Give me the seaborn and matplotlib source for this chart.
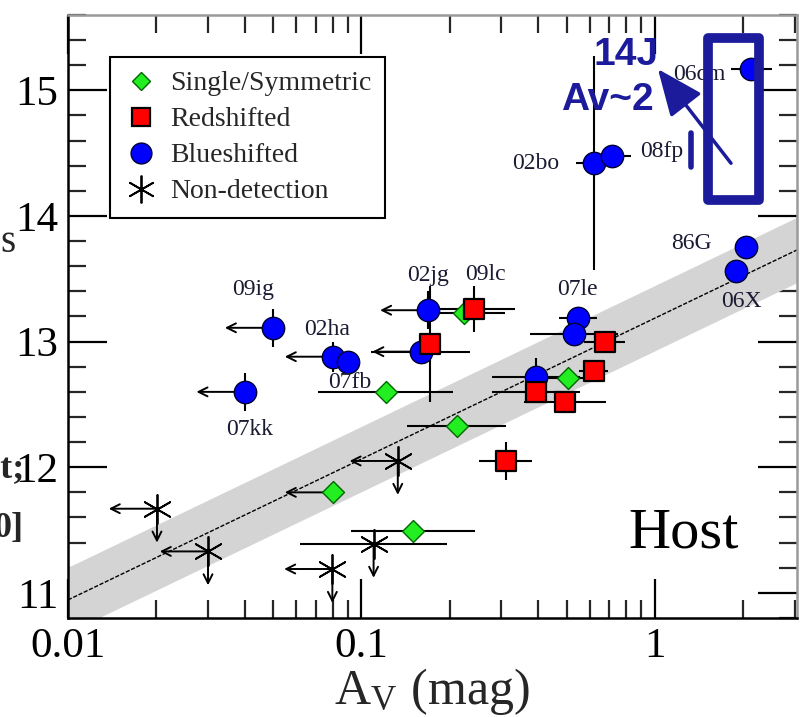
import numpy as np
import pandas as pd
import seaborn as sns
import matplotlib
matplotlib.use("Agg")
import matplotlib.pyplot as plt
from matplotlib.lines import Line2D
from matplotlib.patches import Rectangle
from matplotlib.ticker import LogLocator, MultipleLocator, FixedLocator, FixedFormatter

# ---------------- data ----------------
# Blueshifted
blue_name = ["09ig", "02ha", "07fb", "07kk", "02jg", "", "07le", "", "", "02bo", "08fp", "06cm", "86G", "06X"]
blue_av   = [0.050, 0.080, 0.090, 0.040, 0.169, 0.159, 0.546, 0.529, 0.392, 0.619, 0.713, 2.13, 2.05, 1.89]
blue_y    = [13.11, 12.88, 12.84, 12.60, 13.25, 12.92, 13.19, 13.06, 12.72, 14.42, 14.48, 15.17, 13.75, 13.56]
blue_xerr = [0.0, 0.0, 0.0, 0.0, 0.0, 0.17, 0.065, 0.15, 0.15, 0.06, 0.065, 0.07, 0.0, 0.0]
blue_yerr = [0.15, 0.12, 0.0, 0.15, 0.15, 0.0, 0.0, 0.0, 0.15, 0.85, 0.0, 0.0, 0.0, 0.0]
blue_xlim = [True, True, False, True, True, True, False, False, False, False, False, False, False, False]

# Redshifted
red_name = ["09lc", "", "", "", "", "", ""]
red_av   = [0.241, 0.171, 0.675, 0.619, 0.392, 0.493, 0.310]
red_y    = [13.26, 12.98, 13.00, 12.77, 12.60, 12.52, 12.05]
red_xerr = [0.14, 0.0, 0.07, 0.05, 0.15, 0.14, 0.09]
red_yerr = [0.18, 0.46, 0.0, 0.0, 0.0, 0.0, 0.15]

# Single/Symmetric
grn_av   = [0.223, 0.121, 0.211, 0.505, 0.080, 0.150]
grn_y    = [13.23, 12.60, 12.33, 12.71, 11.80, 11.49]
grn_xerr = [0.14, 0.23, 0.17, 0.10, 0.0, 0.21]
grn_xlim = [False, False, False, False, True, False]

# Non-detection
nd_av   = [0.0201, 0.030, 0.0796, 0.110, 0.133]
nd_y    = [11.67, 11.33, 11.19, 11.39, 12.05]
nd_xerr = [0.0, 0.0, 0.0, 0.25, 0.0]
nd_xlim = [True, True, True, False, True]

# fit line and band
fit_x = [0.01, 3.05]
fit_y = [10.944, 13.73]
band_half = 0.26

label_offsets = {"09ig": (-20, 38), "02ha": (-6, 27), "07fb": (2, -21), "07kk": (5, -38),
                 "02jg": (0, 35), "09lc": (12, 34), "07le": (0, 28), "02bo": (-58, 0),
                 "08fp": (50, 4), "06cm": (-52, -5), "86G": (-55, 4), "06X": (5, -30)}

# ---------------- style ----------------
sns.set_style("ticks")
plt.rcParams["font.family"] = ["Liberation Serif", "DejaVu Serif"]
plt.rcParams["mathtext.fontset"] = "stix"

fig = plt.figure(figsize=(8.05, 7.17), dpi=100)
ax = fig.add_axes([68/805, 1-618/717, (797-68)/805, (618-15)/717])
ax.set_xscale("log")
ax.set_xlim(0.01, 3.05)
ax.set_ylim(10.8, 15.6)

# band & line
xx = np.logspace(np.log10(fit_x[0]), np.log10(fit_x[1]), 200)
yy = np.interp(np.log10(xx), np.log10(fit_x), fit_y)
ax.fill_between(xx, yy - band_half, yy + band_half, color="#d4d4d4", lw=0, zorder=1)
ax.plot(xx, yy, color="black", lw=1.0, ls=(0, (3, 1.2)), zorder=2)

def dex_err(x, d):
    x = np.asarray(x); d = np.asarray(d)
    return np.vstack([x - x / 10**d, x * 10**d - x])

ekw = dict(fmt="none", ecolor="black", elinewidth=1.5, capsize=0, zorder=3)
ax.errorbar(blue_av, blue_y, xerr=dex_err(blue_av, blue_xerr), yerr=blue_yerr, **ekw)
ax.errorbar(red_av, red_y, xerr=dex_err(red_av, red_xerr), yerr=red_yerr, **ekw)
ax.errorbar(grn_av, grn_y, xerr=dex_err(grn_av, grn_xerr), **ekw)
ax.errorbar(nd_av, nd_y, xerr=dex_err(nd_av, nd_xerr), **ekw)

akw = dict(arrowstyle="->", lw=1.4, color="black", mutation_scale=16, shrinkA=0, shrinkB=0)
for flags, xs, ys in [(blue_xlim, blue_av, blue_y), (grn_xlim, grn_av, grn_y), (nd_xlim, nd_av, nd_y)]:
    for f, x, y in zip(flags, xs, ys):
        if f:
            ax.annotate("", xy=(x / 1.46, y), xytext=(x, y), arrowprops=akw, zorder=3)
for x, y in zip(nd_av, nd_y):
    ax.annotate("", xy=(x, y - 0.27), xytext=(x, y), arrowprops=akw, zorder=3)

# points
df_b = pd.DataFrame({"av": blue_av, "y": blue_y})
df_r = pd.DataFrame({"av": red_av, "y": red_y})
df_g = pd.DataFrame({"av": grn_av, "y": grn_y})
sns.scatterplot(data=df_g, x="av", y="y", marker="D", s=125, color="#22ee22", edgecolor="#006600", linewidth=1.0, ax=ax, zorder=4)
sns.scatterplot(data=df_b, x="av", y="y", marker="o", s=260, color="#0000ff", edgecolor="#000033", linewidth=1.0, ax=ax, zorder=5)
sns.scatterplot(data=df_r, x="av", y="y", marker="s", s=200, color="#ff0000", edgecolor="black", linewidth=1.6, ax=ax, zorder=6)
ax.scatter(nd_av, nd_y, marker=(6, 2, 0), s=440, color="black", linewidths=1.3, zorder=6)

for n, x, y in list(zip(blue_name, blue_av, blue_y)) + list(zip(red_name, red_av, red_y)):
    if n:
        ox, oy = label_offsets[n]
        ax.annotate(n, xy=(x, y), xytext=(ox, oy), textcoords="offset pixels",
                    ha="center", va="center", fontsize=17, color="#1a1a33", zorder=7)

# 14J annotation
navy = "#1b1b9b"
ax.add_patch(Rectangle((1.517, 14.13), 2.265 - 1.517, 15.42 - 14.13, fill=False,
                       ec=navy, lw=7, joinstyle="round", zorder=8))
ax.annotate("", xy=(1.024, 15.17), xytext=(1.817, 14.42),
            arrowprops=dict(arrowstyle="-|>,head_length=0.9,head_width=0.38", color=navy, lw=2.5,
                            mutation_scale=32, shrinkA=0, shrinkB=0), zorder=8)
ax.plot([1.327, 1.327], [14.39, 14.66], color=navy, lw=4, zorder=8)
ax.text(0.796, 15.28, "14J", ha="center", va="center", fontsize=28, fontweight="bold",
        color=navy, family=["Liberation Sans", "DejaVu Sans"], zorder=9)
ax.text(0.686, 14.92, "Av~2", ha="center", va="center", fontsize=28, fontweight="bold",
        color=navy, family=["Liberation Sans", "DejaVu Sans"], zorder=9)

ax.text(1.25, 11.47, "Host", ha="center", va="center", fontsize=42, color="black")

# legend
handles = [
    Line2D([], [], ls="none", marker="D", ms=9.5, mfc="#22ee22", mec="#006600", mew=1.0),
    Line2D([], [], ls="none", marker="s", ms=13, mfc="#ff0000", mec="black", mew=1.6),
    Line2D([], [], ls="none", marker="o", ms=15, mfc="#0000ff", mec="#000033", mew=1.0),
    Line2D([], [], ls="none", marker=(6, 2, 0), ms=20, color="black", mew=1.3),
]
labels = ["Single/Symmetric", "Redshifted", "Blueshifted", "Non-detection"]
leg = ax.legend(handles, labels, loc="upper left", bbox_to_anchor=((110-68)/729, (618-57)/603),
                fontsize=20, frameon=True, fancybox=False, edgecolor="black", framealpha=1,
                labelspacing=0.38, handletextpad=0.4, borderpad=0.5, handlelength=1.25,
                borderaxespad=0)
leg.get_frame().set_linewidth(1.5)

# axes styling
ax.set_xticks([0.01, 0.1, 1])
ax.set_xticklabels(["0.01", "0.1", "1"])
ax.xaxis.set_minor_locator(LogLocator(base=10, subs=np.arange(2, 10)))
ax.xaxis.set_minor_formatter(FixedFormatter([]))
ax.yaxis.set_major_locator(FixedLocator([11, 12, 13, 14, 15]))
ax.set_yticklabels(["11", "12", "13", "14", "15"])
ax.yaxis.set_minor_locator(MultipleLocator(0.2))
ax.tick_params(which="major", direction="in", length=28, width=1.6, top=True, right=True,
               labelsize=31, colors="black", pad=7)
ax.tick_params(which="minor", direction="in", length=13, width=1.6, top=True, right=True)
for s in ["left", "bottom"]:
    ax.spines[s].set_linewidth(1.8)
    ax.spines[s].set_color("black")
for s in ["top", "right"]:
    ax.spines[s].set_linewidth(1.8)
    ax.spines[s].set_color("#9a9a9a")
ax.set_xlabel(r"A$_\mathregular{V}$ (mag)", fontsize=36, labelpad=0)
ax.set_ylabel("")

# clipped y-label fragments
fig.text(0.0, 1 - 242/717, "s", fontsize=28, ha="left", va="center")
fig.text(24/805, 1 - 470/717, "nt;", fontsize=26, fontweight="bold", ha="right", va="center")
fig.text(24/805, 1 - 528/717, "0]", fontsize=26, fontweight="bold", ha="right", va="center")

fig.savefig("out.png", dpi=100)
